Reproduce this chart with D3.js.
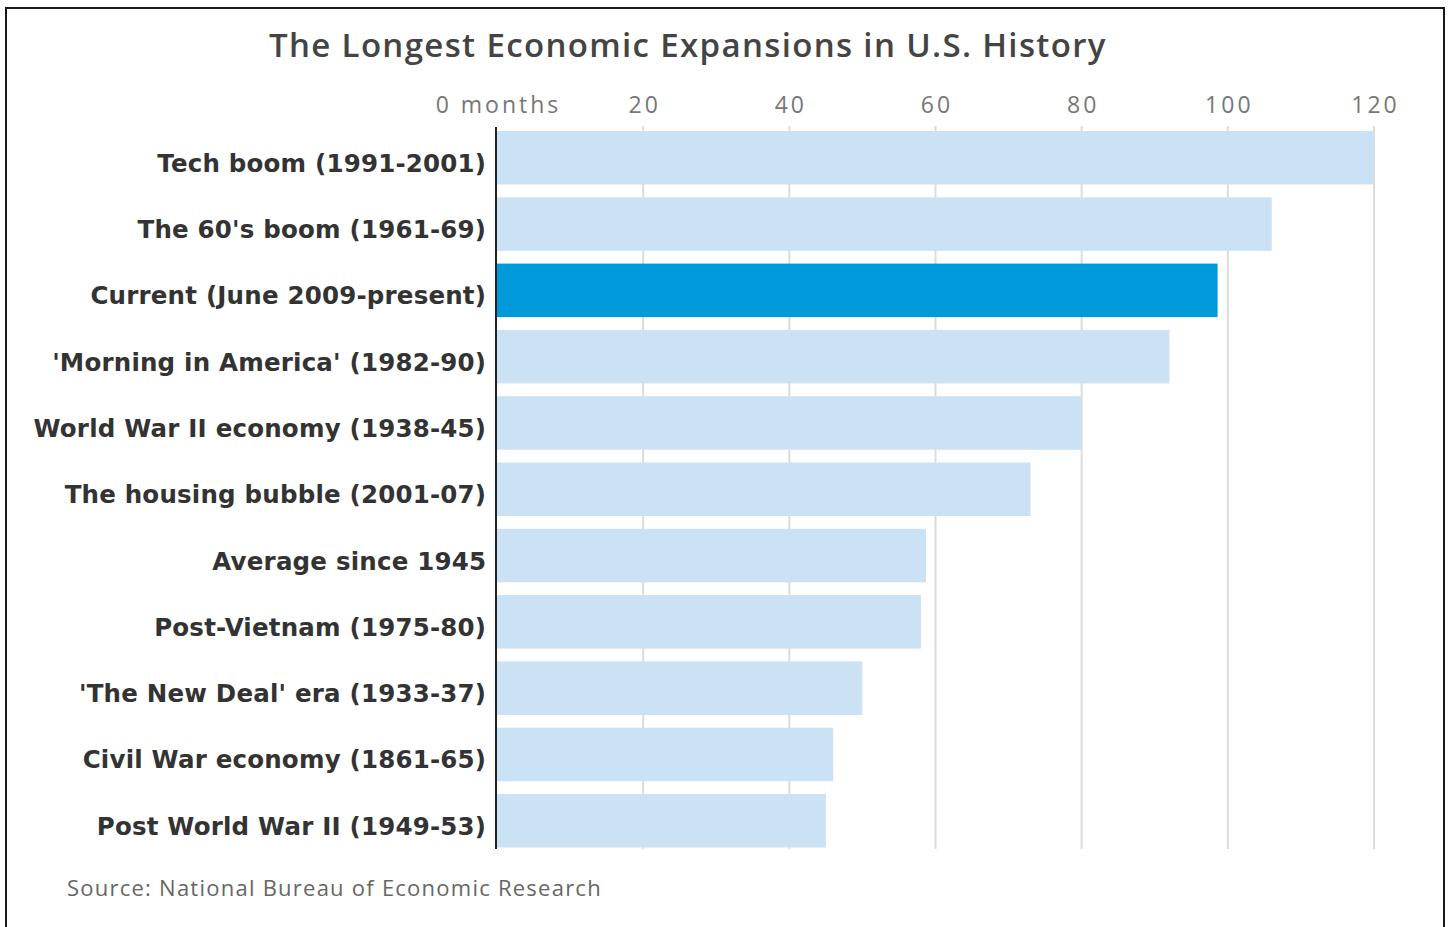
<!DOCTYPE html>
<html><head><meta charset="utf-8">
<script src="https://cdn.jsdelivr.net/npm/d3@7"></script>
<style>body{margin:0;background:#fff}</style>
</head><body>
<svg id="c" width="1452" height="927"></svg>
<script>
const categories = ["Tech boom (1991-2001)","The 60's boom (1961-69)","Current (June 2009-present)","'Morning in America' (1982-90)","World War II economy (1938-45)","The housing bubble (2001-07)","Average since 1945","Post-Vietnam (1975-80)","'The New Deal' era (1933-37)","Civil War economy (1861-65)","Post World War II (1949-53)"];
const months = [120,106,98.6,92,80,73,58.7,58,50,46,45];
const highlight = ["Current (June 2009-present)"];
const tickValues = [0,20,40,60,80,100,120];
const title = "The Longest Economic Expansions in U.S. History";
const source = "Source: National Bureau of Economic Research";

const svg = d3.select("#c");
svg.append("rect").attr("x",6).attr("y",8).attr("width",1438).attr("height",940)
  .attr("fill","#fff").attr("stroke","#1a1a1a").attr("stroke-width",2);

const x = d3.scaleLinear().domain([0,120]).range([497,1374]);
const y = d3.scaleBand().domain(categories).range([124.6,853.9]).paddingInner(0.193).paddingOuter(0.0965);

svg.append("text").attr("x",269).attr("y",57).text(title)
  .attr("font-family","Open Sans").attr("font-size",33).attr("font-weight",600)
  .attr("letter-spacing",1.35).attr("fill","#444");

// grid
svg.append("g").selectAll("line").data(tickValues.filter(d=>d>0)).join("line")
  .attr("x1",d=>x(d)).attr("x2",d=>x(d)).attr("y1",126).attr("y2",849)
  .attr("stroke","#dcdcdc").attr("stroke-width",2);

// tick labels
svg.append("g").selectAll("text").data(tickValues).join("text")
  .attr("x",d=>x(d)+1.5).attr("y",113).attr("text-anchor","middle")
  .attr("font-family","Open Sans").attr("font-size",23).attr("letter-spacing",3).attr("fill","#777")
  .text(d=>d===0?"0 months":d);

// bars
svg.append("g").selectAll("rect").data(categories).join("rect")
  .attr("x",x(0)).attr("y",d=>y(d)).attr("height",y.bandwidth())
  .attr("width",(d,i)=>x(months[i])-x(0))
  .attr("fill",d=>highlight.includes(d)?"#0099d9":"#cbe1f4");

// axis line
svg.append("line").attr("x1",496).attr("x2",496).attr("y1",127).attr("y2",849)
  .attr("stroke","#222").attr("stroke-width",2);

// category labels
svg.append("g").selectAll("text").data(categories).join("text")
  .attr("x",486.2).attr("y",d=>y(d)+y.bandwidth()/2+14).attr("text-anchor","end")
  .attr("font-family","DejaVu Sans").attr("font-size",24.5).attr("font-weight",700)
  .attr("letter-spacing",0.2).attr("fill","#333")
  .text(d=>d);

svg.append("text").attr("x",67).attr("y",896).text(source)
  .attr("font-family","Open Sans").attr("font-size",22).attr("letter-spacing",1.24).attr("fill","#666");
</script>
</body></html>
